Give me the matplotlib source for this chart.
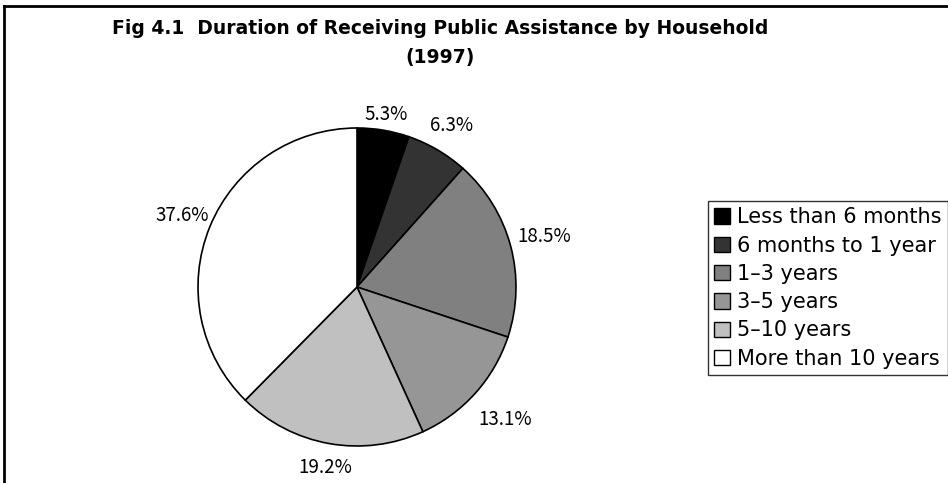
import numpy as np
import matplotlib.pyplot as plt
from matplotlib.lines import Line2D

# data
categories = ['Less than 6 months', '6 months to 1 year', '1\u20133 years',
              '3\u20135 years', '5\u201310 years', 'More than 10 years']
shares = [5.3, 6.3, 18.5, 13.1, 19.2, 37.6]
colors = ['#000000', '#333333', '#808080', '#969696', '#c0c0c0', '#ffffff']

title_line1 = 'Fig 4.1  Duration of Receiving Public Assistance by Household'
title_line2 = '(1997)'

# how far out each percentage sits (in pie radii), as placed in the original
label_dist = [1.10, 1.18, 1.22, 1.25, 1.15, 1.19]

plt.rcParams['font.family'] = ['Noto Sans CJK JP', 'DejaVu Sans']

fig = plt.figure(figsize=(9.48, 4.83), dpi=100)
W, H = 948, 483

# pie axes: centre (357, 287), radius ~159 px
r = 159
cx, cy = 357, 287
ax = fig.add_axes([(cx - r) / W, 1 - (cy + r) / H, 2 * r / W, 2 * r / H])
wedges, _ = ax.pie(shares, colors=colors, startangle=90, counterclock=False,
                   wedgeprops=dict(edgecolor='black', linewidth=1.2))
for w, s, d in zip(wedges, shares, label_dist):
    mid = np.deg2rad((w.theta1 + w.theta2) / 2)
    ax.text(d * np.cos(mid), d * np.sin(mid), '%.1f%%' % s,
            ha='center', va='center', fontsize=13.5)
ax.set_xlim(-1, 1)
ax.set_ylim(-1, 1)
ax.set_aspect('equal')

# title
fig.text(440 / W, 1 - 29 / H, title_line1, ha='center', va='center',
         fontsize=13.5, fontweight='bold', family='DejaVu Sans')
fig.text(440 / W, 1 - 57 / H, title_line2, ha='center', va='center',
         fontsize=13.5, fontweight='bold', family='DejaVu Sans')

# legend, centred on the pie's height, running off the right edge
leg = fig.legend(wedges, categories, loc='center left',
                 bbox_to_anchor=(708 / W, 1 - 288 / H),
                 frameon=True, fancybox=False, edgecolor='black',
                 prop={'family': 'DejaVu Sans', 'size': 15},
                 handlelength=0.75, handleheight=0.75,
                 handletextpad=0.35, labelspacing=0.4, borderpad=0.3,
                 borderaxespad=0)
leg.get_frame().set_linewidth(1.0)
for h in leg.legend_handles:
    h.set_edgecolor('black')
    h.set_linewidth(1.0)

# outer frame (only left and top are visible in the crop)
fig.add_artist(Line2D([4 / W, 4 / W], [0, 1 - 6 / H], color='black', lw=2,
                      transform=fig.transFigure))
fig.add_artist(Line2D([4 / W, 1], [1 - 6 / H, 1 - 6 / H], color='black', lw=2,
                      transform=fig.transFigure))

fig.savefig('out.png', dpi=100)
